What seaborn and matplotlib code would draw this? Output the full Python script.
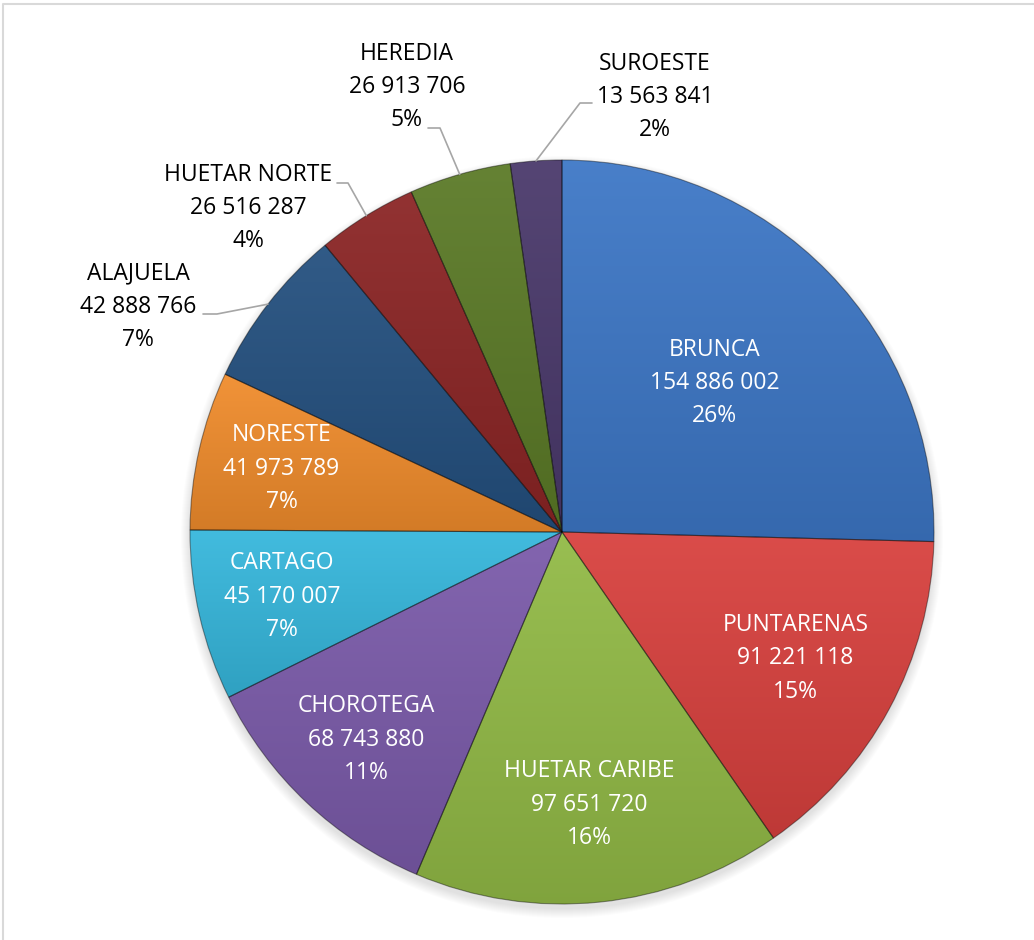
import numpy as np
import seaborn as sns
import matplotlib
matplotlib.use('Agg')
import matplotlib.pyplot as plt
from matplotlib.patches import Circle
from matplotlib.colors import to_rgb

# == Datos == #

regiones = ['BRUNCA', 'PUNTARENAS', 'HUETAR CARIBE', 'CHOROTEGA', 'CARTAGO',
            'NORESTE', 'ALAJUELA', 'HUETAR NORTE', 'HEREDIA', 'SUROESTE']
montos = [154886002, 91221118, 97651720, 68743880, 45170007,
          41973789, 42888766, 26516287, 26913706, 13563841]
etiquetas_monto = ['154 886 002', '91 221 118', '97 651 720', '68 743 880', '45 170 007',
                   '41 973 789', '42 888 766', '26 516 287', '26 913 706', '13 563 841']
porcentajes = ['26%', '15%', '16%', '11%', '7%', '7%', '7%', '4%', '5%', '2%']

colores = ['#3D77C6', '#D8413E', '#92BA46', '#7B5BAA', '#36B7DC',
           '#F08C2C', '#24507F', '#8B2525', '#5B7A27', '#4A396B']

# == Layout (pixels) == #

W, H = 1034, 940
CX, CY, R = 562, 532, 372
# inside labels: radial fraction of radius
r_dentro = [0.574, 0.713, 0.737, 0.768, 0.773, 0.773]
# outside labels: text centre, elbow, end of leader line
fuera = {
    'ALAJUELA': ((138, 307), (217, 314), (203, 314)),
    'HUETAR NORTE': ((248, 208), (348, 183), (337, 183)),
    'HEREDIA': ((407, 87), (440, 128), (428, 128)),
    'SUROESTE': ((655, 97), (580, 103), (592, 103)),
}


def py(y):
    return H - y


def mezcla(c, otro, t):
    c = np.array(to_rgb(c))
    return c * (1 - t) + np.array(otro) * t


sns.set_theme(style='white')
plt.rcParams['font.family'] = ['Open Sans', 'DejaVu Sans']

fig = plt.figure(figsize=(W / 100, H / 100), dpi=100)
ax = fig.add_axes([0, 0, 1, 1])

# soft shadow under the pie
for k in range(10):
    ax.add_patch(Circle((CX, py(CY) - 5), R + 9 - k, color='black', alpha=0.012, lw=0, zorder=0))

wedges, _ = ax.pie(montos, colors=colores, startangle=90, counterclock=False,
                   center=(CX, py(CY)), radius=R, frame=True,
                   wedgeprops=dict(edgecolor=(0, 0, 0, 0.4), linewidth=0.8))

# vertical gradient in every slice
for w, c in zip(wedges, colores):
    bb = w.get_path().get_extents()
    top = mezcla(c, (1, 1, 1), 0.06)
    bot = mezcla(c, (0, 0, 0), 0.12)
    t = np.linspace(0, 1, 64)[:, None, None]
    grad = bot * (1 - t) + top * t
    im = ax.imshow(grad, extent=[bb.x0, bb.x1, bb.y0, bb.y1], origin='lower',
                   aspect='auto', interpolation='bilinear', zorder=2)
    im.set_clip_path(w)
    w.set_facecolor('none')
    w.set_zorder(3)

# labels
for i, w in enumerate(wedges):
    texto = f'{regiones[i]}\n{etiquetas_monto[i]}\n{porcentajes[i]}'
    ang = np.deg2rad((w.theta1 + w.theta2) / 2)
    if regiones[i] in fuera:
        (tx, ty), (ex, ey), (fx, fy) = fuera[regiones[i]]
        sx, sy = CX + R * np.cos(ang), py(CY) + R * np.sin(ang)
        ax.plot([sx, ex, fx], [sy, py(ey), py(fy)], color='#A6A6A6', lw=1.2, zorder=4)
        ax.text(tx, py(ty), texto, ha='center', va='center', color='black',
                fontsize=16.5, linespacing=1.52, zorder=5)
    else:
        rr = r_dentro[i] * R
        ax.text(CX + rr * np.cos(ang), py(CY) + rr * np.sin(ang), texto,
                ha='center', va='center', color='white', fontsize=16.5,
                linespacing=1.52, zorder=5)

# chart frame (cut by the crop)
ax.plot([3, 3, W + 5], [-5, py(4), py(4)], color='#D9D9D9', lw=1.5, zorder=1)

ax.set_xlim(0, W)
ax.set_ylim(0, H)
ax.axis('off')

fig.savefig('out.png', dpi=100)
